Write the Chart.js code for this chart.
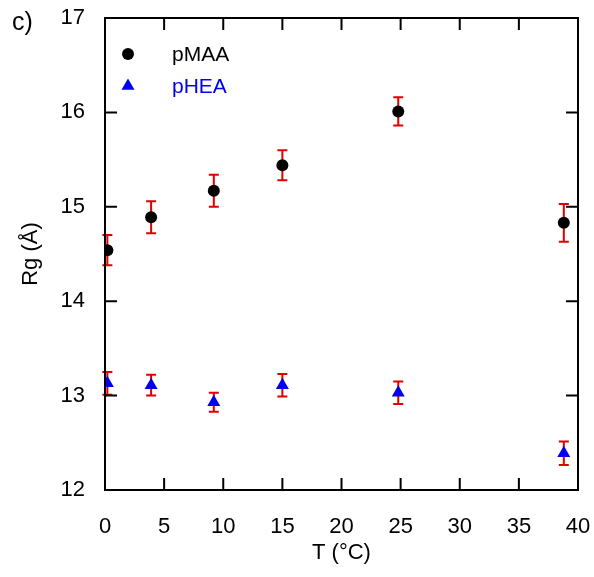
<!DOCTYPE html>
<html>
<head>
<meta charset="utf-8">
<script src="https://cdn.jsdelivr.net/npm/chart.js@4"></script>
<style>
  body { margin:0; background:#fff; }
</style>
</head>
<body>
<canvas id="rg" width="594" height="577"></canvas>
<script>
// temperatures (°C), same for both series
var temps = [0.2, 3.9, 9.2, 15.0, 24.8, 38.8]
// pMAA Rg and error
var pmaa = [14.54, 14.89, 15.17, 15.44, 16.01, 14.83]
var pmaaErr = [0.16, 0.17, 0.17, 0.16, 0.15, 0.20]
// pHEA Rg and error
var phea = [13.13, 13.11, 12.93, 13.11, 13.03, 12.39]
var pheaErr = [0.12, 0.11, 0.10, 0.12, 0.12, 0.125]

var font = "'Liberation Sans', Arial, sans-serif"

function pts(xs, ys, es){
    var out = []
    for(var i = 0; i < xs.length; i++){
        out.push({x: xs[i], y: ys[i], e: es[i]})
    }
    return out
}

// red error bars, drawn under the markers
var errBars = {
    id:'errBars',
    beforeDatasetsDraw(chart){
        var ctx = chart.ctx
        var xs = chart.scales.x, ys = chart.scales.y
        ctx.save()
        ctx.strokeStyle = '#e00000'
        ctx.lineWidth = 2
        chart.data.datasets.forEach(function(ds){
            ds.data.forEach(function(p){
                var px = xs.getPixelForValue(p.x)
                var top = ys.getPixelForValue(p.y + p.e)
                var bot = ys.getPixelForValue(p.y - p.e)
                ctx.beginPath()
                ctx.moveTo(px, top); ctx.lineTo(px, bot)
                ctx.moveTo(px - 5, top); ctx.lineTo(px + 5, top)
                ctx.moveTo(px - 5, bot); ctx.lineTo(px + 5, bot)
                ctx.stroke()
            })
        })
        ctx.restore()
    }
}

// closed frame with inward ticks, legend and panel letter
var frame = {
    id:'frame',
    afterDatasetsDraw(chart){
        var ctx = chart.ctx
        var a = chart.chartArea
        var xs = chart.scales.x, ys = chart.scales.y
        ctx.save()
        ctx.strokeStyle = '#000'
        ctx.lineWidth = 2
        ctx.strokeRect(a.left, a.top, a.right - a.left, a.bottom - a.top)
        ctx.beginPath()
        xs.ticks.forEach(function(t){
            var px = xs.getPixelForValue(t.value)
            ctx.moveTo(px, a.bottom); ctx.lineTo(px, a.bottom - 12)
            ctx.moveTo(px, a.top); ctx.lineTo(px, a.top + 12)
        })
        ys.ticks.forEach(function(t){
            var py = ys.getPixelForValue(t.value)
            ctx.moveTo(a.left, py); ctx.lineTo(a.left + 12, py)
            ctx.moveTo(a.right, py); ctx.lineTo(a.right - 12, py)
        })
        ctx.stroke()

        // legend
        var rows = [[54, 0], [86, 1]]
        rows.forEach(function(r){
            var ds = chart.data.datasets[r[1]]
            ctx.fillStyle = ds.backgroundColor
            Chart.helpers.drawPoint(ctx, {pointStyle: ds.pointStyle, radius: ds.pointRadius, borderWidth: 0},
                a.left + 23, r[0])
            ctx.font = '21px ' + font
            ctx.textAlign = 'left'
            ctx.textBaseline = 'middle'
            ctx.fillStyle = r[1] == 0 ? '#000' : '#0000ee'
            ctx.fillText(ds.label, a.left + 67, r[0] + 1)
        })

        ctx.fillStyle = '#000'
        ctx.font = '25px ' + font
        ctx.textAlign = 'left'
        ctx.textBaseline = 'middle'
        ctx.fillText('c)', 12, 23)
        ctx.restore()
    }
}

var chart1 = new Chart(document.getElementById('rg').getContext('2d'), {
    type:'scatter',
    plugins:[errBars, frame],
    data:{
        datasets:[
            {
                label:'pMAA',
                data: pts(temps, pmaa, pmaaErr),
                pointStyle:'circle',
                pointRadius:6,
                pointHoverRadius:6,
                borderWidth:0,
                backgroundColor:'#000',
                borderColor:'#000'
            },
            {
                label:'pHEA',
                data: pts(temps, phea, pheaErr),
                pointStyle:'triangle',
                pointRadius:7.5,
                pointHoverRadius:7.5,
                borderWidth:0,
                backgroundColor:'#0000ee',
                borderColor:'#0000ee'
            }
        ]
    },
    options:{
        responsive:false,
        animation:false,
        layout:{ padding:{ top:18, right:16, left:0, bottom:0 } },
        plugins:{
            legend:{ display:false },
            tooltip:{ enabled:false }
        },
        scales:{
            x:{
                type:'linear',
                min:0, max:40,
                grid:{ display:false, drawTicks:false },
                border:{ display:false },
                ticks:{ stepSize:5, color:'#000', padding:24, font:{ family:font, size:22 } },
                title:{ display:true, text:'T (°C)', color:'#000', padding:{ top:11, bottom:11 },
                    font:{ family:font, size:22 } },
                afterFit:(s)=>{ s.height = 87; s.paddingLeft = 0; s.paddingRight = 0 }
            },
            y:{
                type:'linear',
                min:12, max:17,
                grid:{ display:false, drawTicks:false },
                border:{ display:false },
                ticks:{ stepSize:1, color:'#000', padding:20, font:{ family:font, size:22 } },
                title:{ display:true, text:'Rg (Å)', color:'#000', padding:{ top:18, bottom:18 },
                    font:{ family:font, size:22 } },
                afterFit:(s)=>{ s.width = 105; s.paddingTop = 0; s.paddingBottom = 0 }
            }
        }
    }
})
</script>
</body>
</html>
